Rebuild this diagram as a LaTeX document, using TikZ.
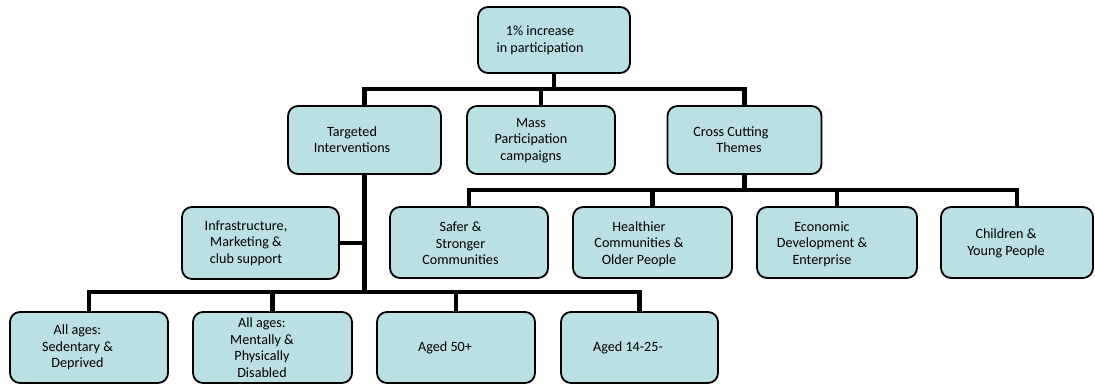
\documentclass[tikz,border=0pt]{standalone}
\usepackage{fontspec}
\setmainfont{Carlito}
\begin{document}
\begin{tikzpicture}[x=1bp,y=-1bp,
  box/.style={draw=black, line width=1.8bp, fill=boxfill, rounded corners=10bp, inner sep=0pt},
  txt/.style={inner sep=0pt, align=center, font=\fontsize{14.2}{16.7}\selectfont},
  conn/.style={draw=black, line width=4.8bp}]
\definecolor{boxfill}{RGB}{186,224,227}
\useasboundingbox (0,0) rectangle (1095,386);
\coordinate (bus1) at (0,89);
\coordinate (bus2) at (0,190);
\coordinate (bus3) at (0,292);
% boxes
\node[box, minimum width=152bp, minimum height=66bp] (top) at (554,40) {};
\node[box, minimum width=153bp, minimum height=68bp] (ti) at (364.5,140) {};
\node[box, minimum width=148bp, minimum height=68bp] (mp) at (541,140) {};
\node[box, minimum width=154bp, minimum height=68bp] (cc) at (744.5,140) {};
\node[box, minimum width=157bp, minimum height=72bp] (inf) at (260.5,243) {};
\node[box, minimum width=158bp, minimum height=71bp] (ss) at (469,242.5) {};
\node[box, minimum width=159bp, minimum height=71bp] (hc) at (652.5,242.5) {};
\node[box, minimum width=160bp, minimum height=71bp] (ed) at (837,242.5) {};
\node[box, minimum width=152bp, minimum height=71bp] (cy) at (1017,242.5) {};
\node[box, minimum width=158bp, minimum height=71bp] (sd) at (89,347.5) {};
\node[box, minimum width=159bp, minimum height=71bp] (md) at (272.5,347.5) {};
\node[box, minimum width=158bp, minimum height=71bp] (a50) at (456,347.5) {};
\node[box, minimum width=157bp, minimum height=71bp] (a14) at (639.5,347.5) {};
% connectors
\draw[conn] (top.south) -- (top.south |- bus1);
\draw[conn] (ti.north) -- (ti.north |- bus1) -- (cc.north |- bus1) -- (cc.north);
\draw[conn] (mp.north) -- (mp.north |- bus1);
\draw[conn] (cc.south) -- (cc.south |- bus2);
\draw[conn] (ss.north) -- (ss.north |- bus2) -- (cy.north |- bus2) -- (cy.north);
\draw[conn] (hc.north) -- (hc.north |- bus2);
\draw[conn] (ed.north) -- (ed.north |- bus2);
\draw[conn] (ti.south) -- (ti.south |- bus3);
\draw[conn] (inf.east) -- (inf.east -| ti.south);
\draw[conn] (sd.north) -- (sd.north |- bus3) -- (a14.north |- bus3) -- (a14.north);
\draw[conn] (md.north) -- (md.north |- bus3);
\draw[conn] (a50.north) -- (a50.north |- bus3);
% texts
\node[txt] (ttop) at (540,40) {1\% increase\\in participation};
\node[txt] (tti) at (352,139.5) {Targeted\\Interventions};
\node[txt] (tmp) at (531,140.5) {Mass\\Participation\\campaigns};
\node[txt] (tcc) at (731,139.5) {Cross Cutting\\\hspace*{16bp}Themes};
\node[txt] (tinf) at (246,243) {Infrastructure,\\Marketing \&\\club support};
\node[txt] (tss) at (460.5,243.5) {Safer \&\\Stronger\\Communities};
\node[txt] (thc) at (639,244) {Healthier\\Communities \&\\Older People};
\node[txt] (ted) at (822,244) {Economic\\Development \&\\Enterprise};
\node[txt] (tcy) at (1006,243.5) {Children \&\\Young People};
\node[txt] (tsd) at (77.5,347.5) {All ages:\\Sedentary \&\\Deprived};
\node[txt] (tmd) at (262,347.5) {All ages:\\Mentally \&\\Physically\\Disabled};
\node[txt] (ta50) at (445,347.5) {Aged 50+};
\node[txt] (ta14) at (628,347.5) {Aged 14-25-};
\end{tikzpicture}
\end{document}
